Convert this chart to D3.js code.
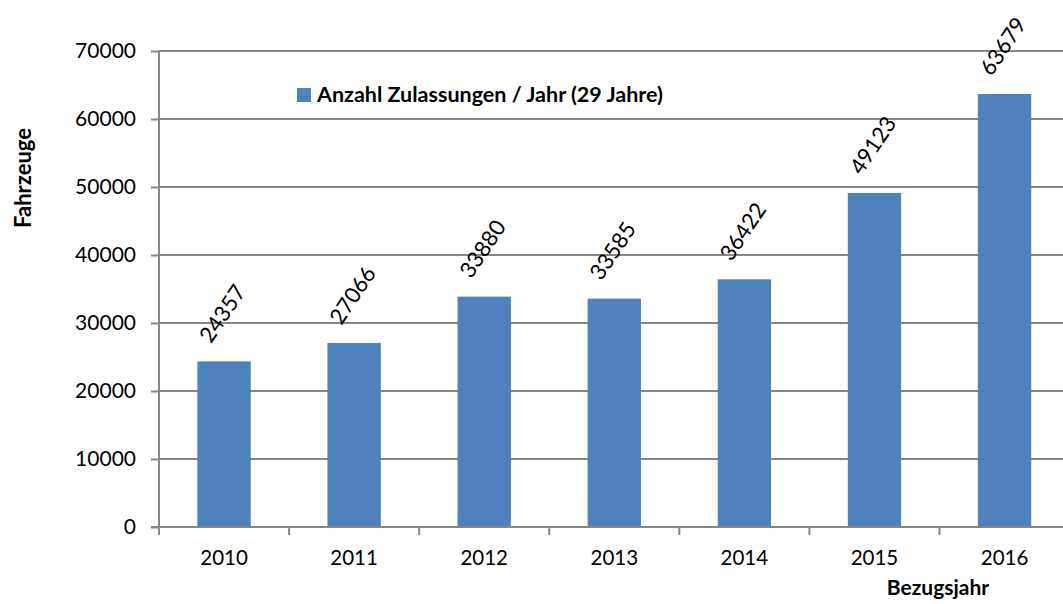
<!DOCTYPE html>
<html>
<head>
<meta charset="utf-8">
<script src="https://cdn.jsdelivr.net/npm/d3@7"></script>
<style>
  body { margin: 0; background: #fff; }
  text { font-family: Lato, "Open Sans", sans-serif; fill: #000; }
</style>
</head>
<body>
<div class="canvas"></div>
<script>
// data
const years = ['2010', '2011', '2012', '2013', '2014', '2015', '2016'];
const counts = [24357, 27066, 33880, 33585, 36422, 49123, 63679];
const yTicks = [0, 10000, 20000, 30000, 40000, 50000, 60000, 70000];
const seriesName = 'Anzahl Zulassungen / Jahr (29 Jahre)';

const dims = { width: 1063, height: 604 };
const plot = { left: 159, top: 51, bottom: 527, right: 1069.6 };

const svg = d3.select('.canvas')
    .append('svg')
    .attr('width', dims.width)
    .attr('height', dims.height);

const x = d3.scaleBand()
    .domain(years)
    .range([plot.left, plot.right])
    .paddingInner(0.59)
    .paddingOuter(0.295);

const y = d3.scaleLinear()
    .domain([0, 70000])
    .range([plot.bottom, plot.top]);

const grey = '#868686';

// gridlines
svg.append('g')
    .selectAll('line')
    .data(yTicks.slice(1))
    .join('line')
    .attr('x1', plot.left)
    .attr('x2', dims.width)
    .attr('y1', d => y(d))
    .attr('y2', d => y(d))
    .attr('stroke', grey)
    .attr('stroke-width', 2);

// bars
svg.append('g')
    .selectAll('rect')
    .data(counts)
    .join('rect')
    .attr('x', (d, i) => x(years[i]))
    .attr('y', d => y(d))
    .attr('width', x.bandwidth())
    .attr('height', d => y(0) - y(d))
    .attr('fill', '#4F81BD');

// y axis
const yAxis = d3.axisLeft(y)
    .tickValues(yTicks)
    .tickFormat(d3.format('d'))
    .tickSize(8)
    .tickPadding(15);

const yg = svg.append('g')
    .attr('transform', `translate(${plot.left},0)`)
    .call(yAxis);
yg.select('.domain').attr('stroke', grey).attr('stroke-width', 2).attr('d', `M0,${plot.bottom}V${plot.top}`);
yg.selectAll('.tick line').attr('stroke', grey).attr('stroke-width', 2);
yg.selectAll('.tick text').attr('font-size', 21).attr('fill', '#000');

// x axis, ticks between categories
const xg = svg.append('g')
    .attr('transform', `translate(0,${plot.bottom})`);
xg.append('line')
    .attr('x1', plot.left - 8).attr('x2', dims.width)
    .attr('stroke', grey).attr('stroke-width', 2);
const step = x.step();
xg.selectAll('.xtick')
    .data(years)
    .join('line')
    .attr('class', 'xtick')
    .attr('x1', (d, i) => plot.left + i * step)
    .attr('x2', (d, i) => plot.left + i * step)
    .attr('y1', 0).attr('y2', 8)
    .attr('stroke', grey).attr('stroke-width', 2);
xg.selectAll('.xlab')
    .data(years)
    .join('text')
    .attr('class', 'xlab')
    .attr('x', d => x(d) + x.bandwidth() / 2)
    .attr('y', 38)
    .attr('text-anchor', 'middle')
    .attr('font-size', 20.5)
    .text(d => d);

// value labels, rotated
svg.append('g')
    .selectAll('text')
    .data(counts)
    .join('text')
    .attr('transform', (d, i) => `translate(${x(years[i]) + x.bandwidth() / 2 - 13},${y(d) - 17}) rotate(-56)`)
    .attr('font-size', 22)
    .text(d => d);

// legend
const legend = svg.append('g').attr('transform', 'translate(297,88)');
legend.append('rect').attr('width', 14).attr('height', 14).attr('fill', '#4F81BD');
legend.append('text')
    .attr('x', 20).attr('y', 14)
    .attr('font-size', 21.5).attr('font-weight', 'bold')
    .text(seriesName);

// axis titles
svg.append('text')
    .attr('transform', 'translate(31,178) rotate(-90)')
    .attr('text-anchor', 'middle')
    .attr('font-size', 22).attr('font-weight', 'bold')
    .text('Fahrzeuge');

svg.append('text')
    .attr('x', 938).attr('y', 595)
    .attr('text-anchor', 'middle')
    .attr('font-size', 21).attr('font-weight', 'bold')
    .text('Bezugsjahr');
</script>
</body>
</html>
